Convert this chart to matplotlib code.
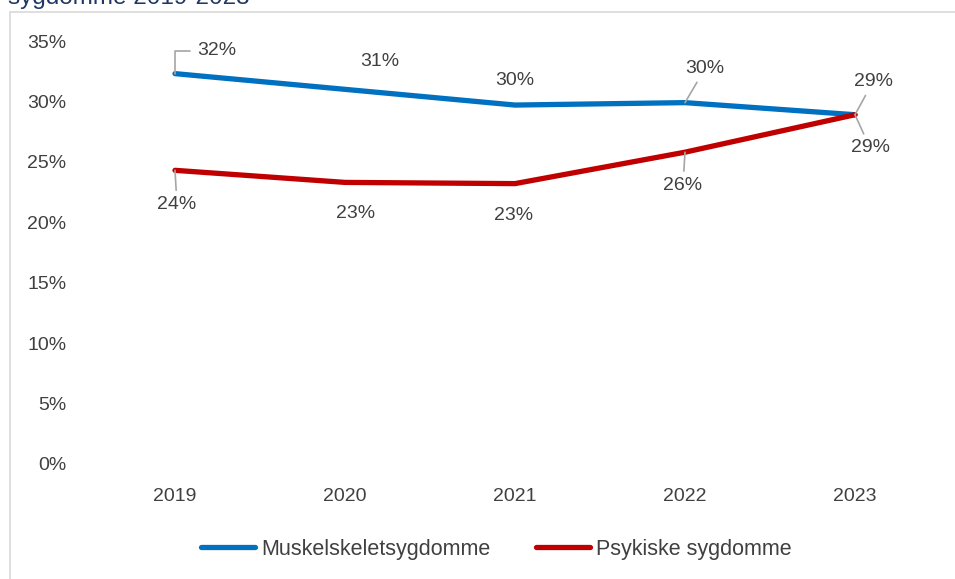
import matplotlib
matplotlib.use("Agg")
import matplotlib.pyplot as plt
from matplotlib.patches import Rectangle

plt.rcParams['font.family'] = ['Liberation Sans', 'DejaVu Sans']

years = ["2019", "2020", "2021", "2022", "2023"]
muskel = [32.3, 31.0, 29.7, 29.9, 28.9]
psyk = [24.3, 23.3, 23.2, 25.8, 28.9]
muskel_labels = ["32%", "31%", "30%", "30%", "29%"]
psyk_labels = ["24%", "23%", "23%", "26%", "29%"]
yticks = [0, 5, 10, 15, 20, 25, 30, 35]
title_text = "sygdomme 2019-2023"

BLUE = "#0070C0"
RED = "#C00000"
TXT = "#404040"
LEAD = "#A6A6A6"

W, H = 955, 579
fig = plt.figure(figsize=(W / 100, H / 100), dpi=100)

# outer chart frame
fig.patches.append(Rectangle((10 / W, -0.05), 1.1, 1 - 12 / H + 0.05, transform=fig.transFigure,
                             fill=False, edgecolor="#D9D9D9", linewidth=1.2))
fig.text(8 / W, 1 - 4 / H, title_text, fontsize=17.5, color="#1F3864", va="baseline", ha="left")

ax = fig.add_axes([90 / W, 1 - 464 / H, 850 / W, 423 / H])
x = list(range(len(years)))
ax.plot(x, muskel, color=BLUE, lw=3.8, solid_capstyle="round", solid_joinstyle="round",
        label="Muskelskeletsygdomme", zorder=3)
ax.plot(x, psyk, color=RED, lw=3.8, solid_capstyle="round", solid_joinstyle="round",
        label="Psykiske sygdomme", zorder=4)

ax.set_xlim(-0.5, 4.5)
ax.set_ylim(0, 35)
ax.set_yticks(yticks)
ax.set_yticklabels([f"{v}%" for v in yticks])
ax.set_xticks(x)
ax.set_xticklabels(years)
ax.tick_params(length=0, labelsize=14, colors=TXT)
ax.tick_params(axis="y", pad=17)
ax.tick_params(axis="x", pad=17)
for s in ax.spines.values():
    s.set_visible(False)

# label offsets in pixels (dx, dy), and whether to draw leader
m_off = [(42, 23, True), (35, 28, False), (0, 25, False), (20, 34, True), (18, 33, True)]
p_off = [(2, -34, True), (11, -31, False), (-1, -32, False), (-2, -33, True), (15, -33, True)]

for i in x:
    dx, dy, lead = m_off[i]
    kw = {}
    if lead:
        if i == 0:
            kw = dict(arrowprops=dict(arrowstyle="-", color=LEAD, lw=1.2, shrinkA=3, shrinkB=0,
                                      connectionstyle="angle,angleA=0,angleB=90,rad=0"))
        else:
            kw = dict(arrowprops=dict(arrowstyle="-", color=LEAD, lw=1.2, shrinkA=2, shrinkB=0))
    ax.annotate(muskel_labels[i], (i, muskel[i]), xytext=(dx, dy), textcoords="offset pixels",
                ha="center", va="center", fontsize=14, color=TXT, zorder=5, **kw)
    dx, dy, lead = p_off[i]
    kw = {}
    if lead:
        kw = dict(arrowprops=dict(arrowstyle="-", color=LEAD, lw=1.2, shrinkA=2, shrinkB=0))
    ax.annotate(psyk_labels[i], (i, psyk[i]), xytext=(dx, dy), textcoords="offset pixels",
                ha="center", va="center", fontsize=14, color=TXT, zorder=5, **kw)

leg = fig.legend(loc="center", bbox_to_anchor=(0.52, 1 - 549 / H), ncol=2, frameon=False,
                 fontsize=15.5, handlelength=2.5, handletextpad=0.3, columnspacing=2.1)
for t in leg.get_texts():
    t.set_color(TXT)

fig.savefig("out.png", dpi=100)
